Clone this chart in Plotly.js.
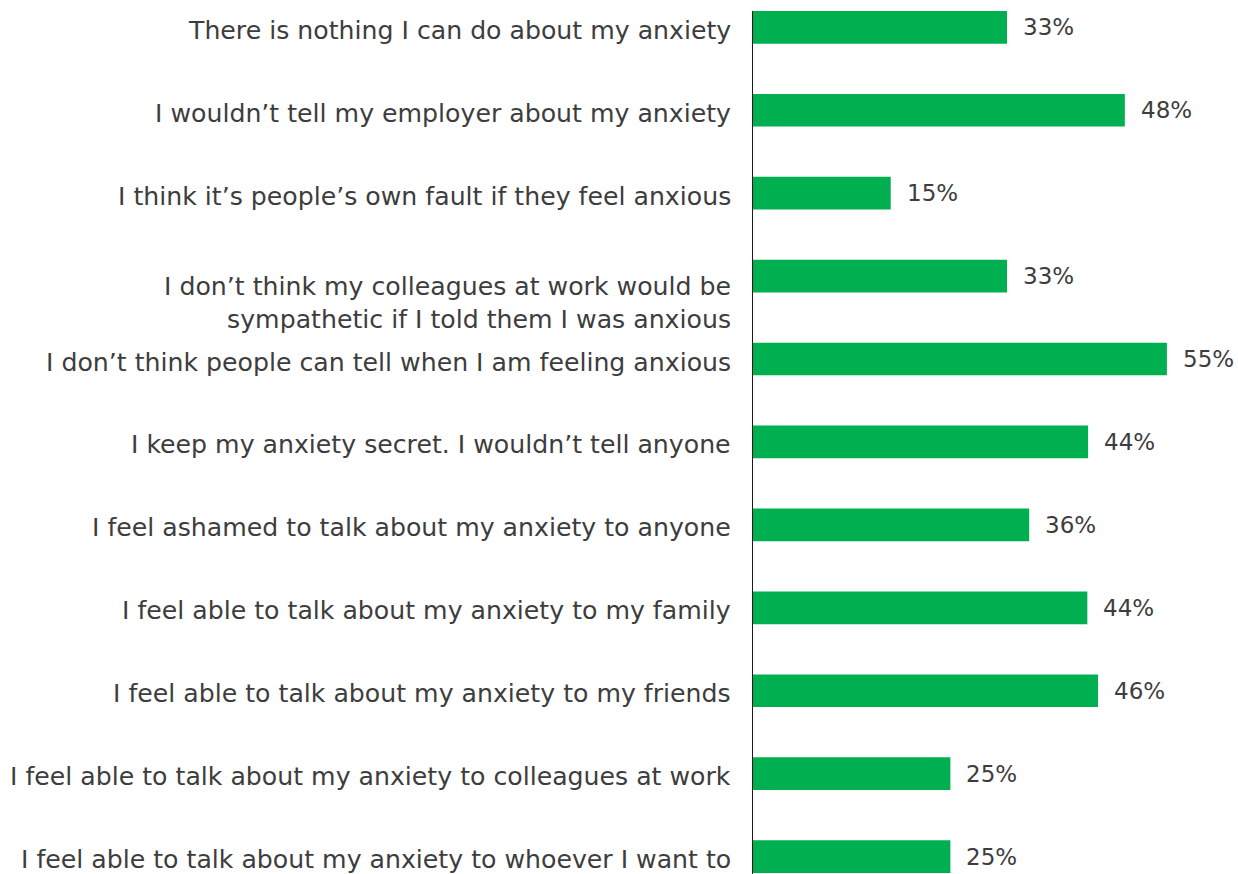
<!DOCTYPE html>
<html>
<head>
<meta charset="utf-8">
<script src="https://cdn.plot.ly/plotly-3.0.1.min.js"></script>
<style>
html,body{margin:0;padding:0;background:#fff;}
#chart{width:1238px;height:874px;}
</style>
</head>
<body>
<div id="chart"></div>
<script>
// Categories (top to bottom)
var categories = [
  "There is nothing I can do about my anxiety",
  "I wouldn\u2019t tell my employer about my anxiety",
  "I think it\u2019s people\u2019s own fault if they feel anxious",
  "I don\u2019t think my colleagues at work would be<br>sympathetic if I told them I was anxious",
  "I don\u2019t think people can tell when I am feeling anxious",
  "I keep my anxiety secret. I wouldn\u2019t tell anyone",
  "I feel ashamed to talk about my anxiety to anyone",
  "I feel able to talk about my anxiety to my family",
  "I feel able to talk about my anxiety to my friends",
  "I feel able to talk about my anxiety to colleagues at work",
  "I feel able to talk about my anxiety to whoever I want to"
];
// Bar lengths (%) as drawn in the picture
var barValues = [33.2, 48.6, 18.0, 33.2, 54.1, 43.8, 36.1, 43.7, 45.1, 25.8, 25.8];
// Printed data labels
var valueLabels = ["33%", "48%", "15%", "33%", "55%", "44%", "36%", "44%", "46%", "25%", "25%"];

var FONT = "'DejaVu Sans', sans-serif";
var TEXT_COLOR = "#3d3d3d";
var BAR_COLOR = "#00b050";

var trace = {
  type: "bar",
  orientation: "h",
  y: categories.map(function(c, i){ return i; }),
  x: barValues,
  marker: {color: BAR_COLOR, line: {width: 0}},
  hoverinfo: "skip"
};

var annotations = [];
categories.forEach(function(c, i){
  var nLines = c.split("<br>").length;
  annotations.push({
    xref: "paper", yref: "y", x: 0, y: i,
    text: c, showarrow: false,
    xanchor: "right", yanchor: "middle", align: "right",
    xshift: -20, yshift: -3 - (nLines - 1) * 24,
    font: {family: FONT, size: 25.2, color: TEXT_COLOR}
  });
  annotations.push({
    xref: "x", yref: "y", x: barValues[i], y: i,
    text: valueLabels[i], showarrow: false,
    xanchor: "left", yanchor: "middle",
    xshift: 14, yshift: 0,
    font: {family: FONT, size: 23, color: TEXT_COLOR}
  });
});

var layout = {
  width: 1238, height: 874,
  margin: {l: 753, r: 3, t: 11, b: 0, pad: 0},
  paper_bgcolor: "#ffffff", plot_bgcolor: "#ffffff",
  showlegend: false,
  bargap: 0.606,
  xaxis: {range: [0, 63], showgrid: false, zeroline: false, showticklabels: false, ticks: "", showline: false, fixedrange: true},
  yaxis: {range: [10.21, -0.197], showgrid: false, zeroline: false, showticklabels: false, ticks: "", showline: true, linecolor: "#1a1a1a", linewidth: 1.3, fixedrange: true},
  annotations: annotations
};

Plotly.newPlot("chart", [trace], layout, {displayModeBar: false, staticPlot: true});
</script>
</body>
</html>
